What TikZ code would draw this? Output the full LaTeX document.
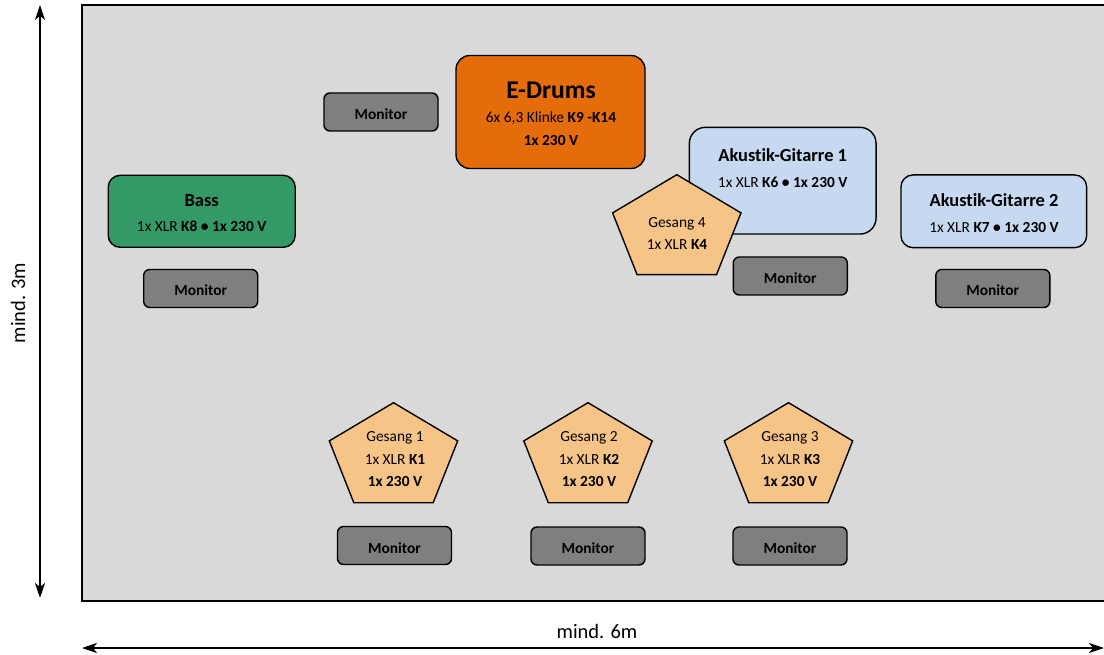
\documentclass[tikz,border=0pt]{standalone}
\usepackage{fontspec}
\setmainfont{Carlito}[Ligatures={NoCommon}]
\usetikzlibrary{arrows.meta}
\definecolor{stagegray}{HTML}{D9D9D9}
\definecolor{drumorange}{HTML}{E46C0A}
\definecolor{bassgreen}{HTML}{339966}
\definecolor{guitarblue}{HTML}{C6D9F1}
\definecolor{vocalorange}{HTML}{F7C488}
\definecolor{monitorgray}{HTML}{7F7F7F}
\newcommand{\smallfnt}{\fontsize{15.4}{22.5}\selectfont}
\newcommand{\titlefnt}{\fontsize{18.4}{22.5}\selectfont\bfseries}
\tikzset{
  boxbase/.style={draw=black, line width=1.4pt, inner sep=0pt},
  drumbox/.style={boxbase, fill=drumorange, rounded corners=14pt, minimum width=189pt, minimum height=113pt},
  bassbox/.style={boxbase, fill=bassgreen, rounded corners=12pt, minimum width=187pt, minimum height=72pt},
  guitarbox/.style={boxbase, fill=guitarblue, rounded corners=16pt},
  monbox/.style={boxbase, fill=monitorgray, rounded corners=6pt, minimum width=114pt, minimum height=38pt,
    text height=15pt, text depth=0pt,
    font=\fontsize{15.4}{18}\selectfont\bfseries},
  boxtext/.style={align=center, inner sep=0pt, font=\smallfnt},
  pentshape/.pic={\draw[draw=black, line width=1.4pt, fill=vocalorange]
    (0,-55.3) -- (-64.2,-17.1) -- (-39.7,44.7) -- (39.7,44.7) -- (64.2,-17.1) -- cycle;},
  dimline/.style={line width=1.5pt, {Stealth[length=15pt,width=10pt,inset=4pt]}-{Stealth[length=15pt,width=10pt,inset=4pt]}},
  dimlabel/.style={font=\fontsize{20.5}{24}\selectfont, inner sep=0pt}
}
\begin{document}
\begin{tikzpicture}[x=1pt,y=-1pt]
\useasboundingbox (0,0) rectangle (1104,655);
% stage
\node[draw=black, line width=2pt, fill=stagegray, minimum width=1030pt, minimum height=596pt, inner sep=0pt, anchor=north west] (stage) at (81,4) {};

% E-Drums
\node[drumbox] (drumsbox) at (550.5,112) {};
\node[boxtext] (drums) at (551,113.5) {{\fontsize{25.5}{26}\selectfont\bfseries E-Drums}\\[2pt]6x 6,3 Klinke \textbf{K9 -K14}\\\textbf{1x 230 V}};

% Monitor top left
\node[monbox] (mon0) at (381,112) {Monitor};

% Bass
\node[bassbox] (bassbox) at (201.7,211.3) {};
\node[boxtext] (bass) at (201.7,213) {{\titlefnt Bass}\\[3pt]1x XLR \textbf{K8 • 1x 230 V}};
\node[monbox] (monbass) at (200.7,288.5) {Monitor};

% Akustik-Gitarre 1
\node[guitarbox, minimum width=186.7pt, minimum height=106.7pt] (ak1box) at (782.7,180.7) {};
\node[boxtext] (ak1) at (782.7,168) {{\titlefnt Akustik-Gitarre 1}\\[3pt]1x XLR \textbf{K6 • 1x 230 V}};
\node[monbox] (monak1) at (790.3,276) {Monitor};

% Akustik-Gitarre 2
\node[guitarbox, rounded corners=12pt, minimum width=185.7pt, minimum height=72.7pt] (ak2box) at (993.8,211.3) {};
\node[boxtext] (ak2) at (994,213) {{\titlefnt Akustik-Gitarre 2}\\[3pt]1x XLR \textbf{K7 • 1x 230 V}};
\node[monbox] (monak2) at (992.8,288.5) {Monitor};

% Gesang 4
\pic at (676.8,230) {pentshape};
\node[boxtext] (g4) at (677,233.5) {Gesang 4\\1x XLR \textbf{K4}};

% Gesang 1-3
\pic at (393.5,458) {pentshape};
\node[boxtext] (g1) at (395,459.5) {Gesang 1\\1x XLR \textbf{K1}\\\textbf{1x 230 V}};
\node[monbox] (mon1) at (394.5,545.5) {Monitor};

\pic at (588,458) {pentshape};
\node[boxtext] (g2) at (589,459.5) {Gesang 2\\1x XLR \textbf{K2}\\\textbf{1x 230 V}};
\node[monbox] (mon2) at (588,546) {Monitor};

\pic at (788.5,458) {pentshape};
\node[boxtext] (g3) at (790,459.5) {Gesang 3\\1x XLR \textbf{K3}\\\textbf{1x 230 V}};
\node[monbox] (mon3) at (790,546) {Monitor};

% dimensions
\coordinate (vtop) at (40,5);
\coordinate (vbot) at (40,598);
\draw[dimline] (vtop) -- (vbot);
\node[dimlabel, rotate=90] (height) at (18,303) {mind. 3m};
\coordinate (hleft) at (82,648);
\coordinate (hright) at (1104,648);
\draw[dimline] (hleft) -- (hright);
\node[dimlabel] (width) at (597,631) {mind. 6m};
\end{tikzpicture}
\end{document}
